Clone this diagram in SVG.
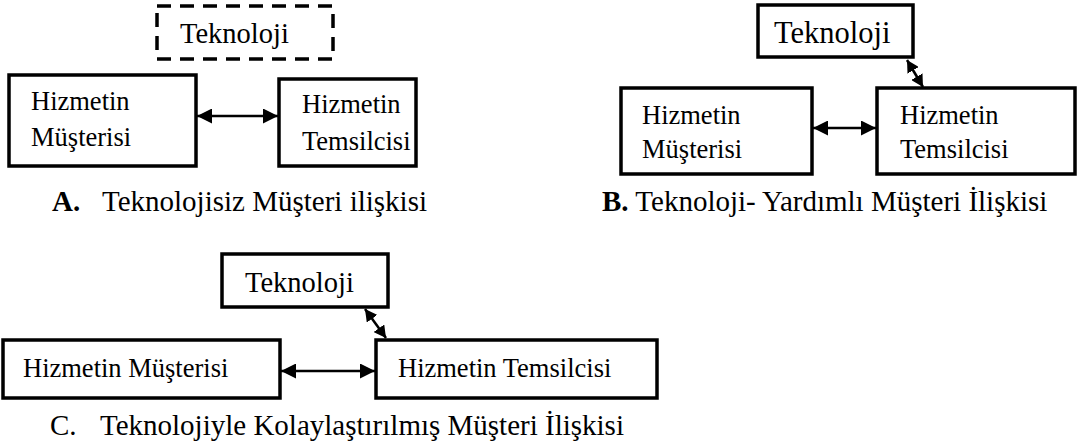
<svg xmlns="http://www.w3.org/2000/svg" width="1077" height="447" viewBox="0 0 1077 447">
  <style>
    .box { fill: #fff; stroke: #000; stroke-width: 3.5; }
    .dash { fill: #fff; stroke: #000; stroke-width: 3.5; stroke-dasharray: 14 9; }
    .lbl { font-family: "Liberation Serif", "Times New Roman", serif; font-size: 26.5px; fill: #000; }
    .tek { font-family: "Liberation Serif", "Times New Roman", serif; font-size: 28.5px; fill: #000; }
    .cap { font-family: "Liberation Serif", "Times New Roman", serif; font-size: 29px; fill: #000; }
    .b { font-weight: bold; }
    .link { stroke: #000; stroke-width: 2.5; fill: none; }
  </style>
  <defs>
    <marker id="head" markerUnits="userSpaceOnUse" markerWidth="15" markerHeight="15" refX="15" refY="7.5" orient="auto-start-reverse">
      <path d="M0,0 L15,7.5 L0,15 z" fill="#000"/>
    </marker>
    <marker id="headS" markerUnits="userSpaceOnUse" markerWidth="13" markerHeight="13" refX="12" refY="6.5" orient="auto-start-reverse">
      <path d="M0,0 L12,6.5 L0,13 z" fill="#000"/>
    </marker>
  </defs>

  <rect width="1077" height="447" fill="#fff"/>

  <!-- A: without technology -->
  <g id="a-teknoloji">
    <rect class="dash" x="157" y="6" width="176" height="53"/>
    <text class="tek" x="180" y="43">Teknoloji</text>
  </g>
  <g id="a-musteri">
    <rect class="box" x="9" y="75" width="187" height="91"/>
    <text class="lbl" x="31" y="110">Hizmetin</text>
    <text class="lbl" x="31" y="146">Müşterisi</text>
  </g>
  <g id="a-temsilci">
    <rect class="box" x="279" y="79" width="137" height="87"/>
    <text class="lbl" x="302" y="113">Hizmetin</text>
    <text class="lbl" x="302" y="150">Temsilcisi</text>
  </g>
  <text class="cap" x="52" y="211"><tspan class="b">A.</tspan><tspan x="102">Teknolojisiz Müşteri ilişkisi</tspan></text>

  <!-- B: technology-assisted -->
  <g id="b-teknoloji">
    <rect class="box" x="758" y="5" width="155" height="52"/>
    <text class="tek" x="774" y="43" style="font-size:30.5px">Teknoloji</text>
  </g>
  <g id="b-musteri">
    <rect class="box" x="621" y="88" width="191" height="86"/>
    <text class="lbl" x="642" y="124">Hizmetin</text>
    <text class="lbl" x="642" y="158">Müşterisi</text>
  </g>
  <g id="b-temsilci">
    <rect class="box" x="877" y="88" width="198" height="86"/>
    <text class="lbl" x="900" y="124">Hizmetin</text>
    <text class="lbl" x="900" y="158">Temsilcisi</text>
  </g>
  <text class="cap" x="602" y="211"><tspan class="b">B.</tspan> Teknoloji- Yardımlı Müşteri İlişkisi</text>

  <!-- C: technology-facilitated -->
  <g id="c-teknoloji">
    <rect class="box" x="222" y="254" width="166" height="53"/>
    <text class="tek" x="245" y="292">Teknoloji</text>
  </g>
  <g id="c-musteri">
    <rect class="box" x="3" y="340" width="277" height="58"/>
    <text class="lbl" x="23" y="377">Hizmetin Müşterisi</text>
  </g>
  <g id="c-temsilci">
    <rect class="box" x="376" y="340" width="281" height="58"/>
    <text class="lbl" x="398" y="377">Hizmetin Temsilcisi</text>
  </g>
  <text class="cap" x="50" y="435">C.<tspan x="100">Teknolojiyle Kolaylaştırılmış Müşteri İlişkisi</tspan></text>

  <!-- connectors -->
  <g id="connectors">
    <line class="link" x1="197" y1="116" x2="278" y2="116" marker-start="url(#head)" marker-end="url(#head)"/>
    <line class="link" x1="813" y1="128" x2="876" y2="128" marker-start="url(#head)" marker-end="url(#head)"/>
    <line class="link" x1="907" y1="60" x2="923" y2="87" marker-start="url(#headS)" marker-end="url(#headS)"/>
    <line class="link" x1="281" y1="371" x2="375" y2="371" marker-start="url(#head)" marker-end="url(#head)"/>
    <line class="link" x1="365" y1="309" x2="386" y2="338" marker-start="url(#headS)" marker-end="url(#headS)"/>
  </g>
</svg>
